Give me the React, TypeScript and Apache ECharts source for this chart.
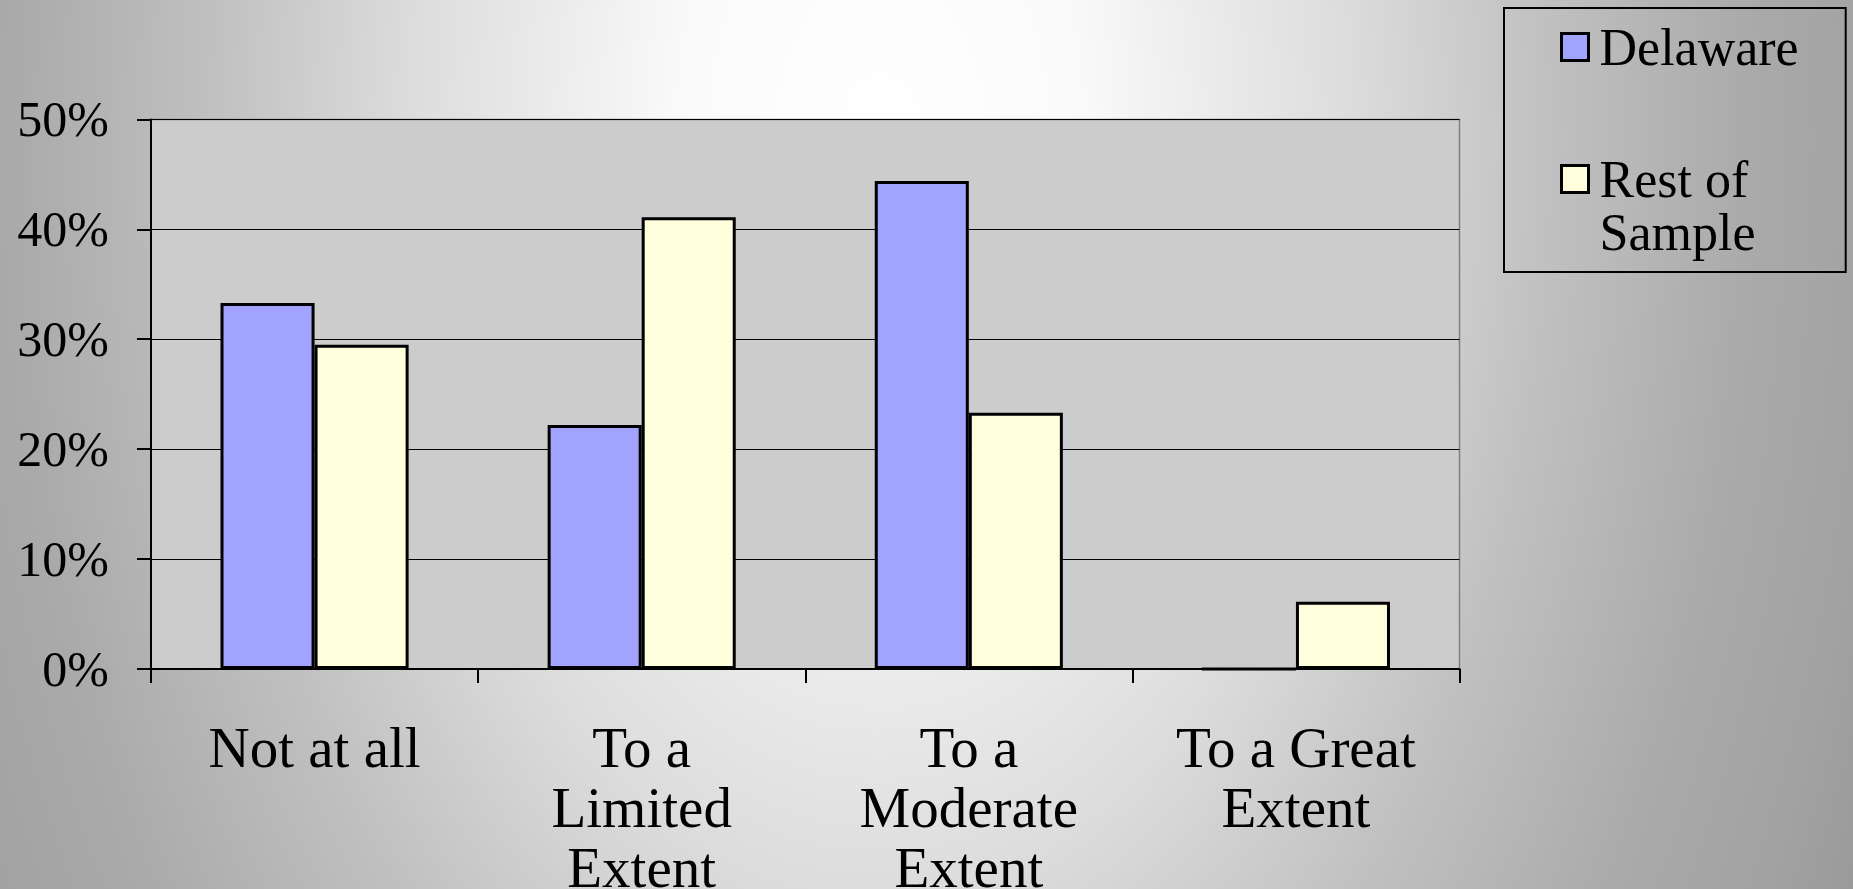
import React, { useEffect, useRef } from 'react';
import * as echarts from 'echarts';

// Survey answer categories (x axis), with their printed line breaks
const categories = [
  'Not at all',
  'To a\nLimited\nExtent',
  'To a\nModerate\nExtent',
  'To a Great\nExtent',
];

// Share of respondents, in percent
const delaware = [33.3, 22.2, 44.4, 0];
const restOfSample = [29.5, 41.1, 23.3, 6.1];

// Value axis range
const yMin = 0;
const yMax = 50;
const yStep = 10;

const seriesNames = ['Delaware', 'Rest of Sample'];

const W = 1853;
const H = 889;
const FONT = '"Liberation Serif", "Times New Roman", serif';

export default function App() {
  const ref = useRef<HTMLDivElement>(null);

  useEffect(() => {
    if (!ref.current) return;
    const chart = echarts.init(ref.current, undefined, { renderer: 'svg' });

    // Elliptical backdrop: a circular gradient drawn in a vertically stretched rect
    const stretch = 1.6;
    const backdrop = new echarts.graphic.RadialGradient(
      880,
      140 / stretch,
      1100,
      [
        { offset: 0, color: '#ffffff' },
        { offset: 0.18, color: '#fafafa' },
        { offset: 0.43, color: '#dcdcdc' },
        { offset: 0.61, color: '#c0c0c0' },
        { offset: 0.79, color: '#aaaaaa' },
        { offset: 0.91, color: '#a2a2a2' },
        { offset: 1, color: '#989898' },
      ],
      true
    );

    chart.setOption({
      animation: false,
      graphic: [
        {
          type: 'rect',
          z: -100,
          silent: true,
          shape: { x: 0, y: 0, width: W, height: H / stretch },
          scaleY: stretch,
          style: { fill: backdrop },
        },
      ],
      grid: {
        left: 151,
        right: W - 1459.5,
        top: 119.4,
        bottom: H - 668.9,
        outerBoundsMode: 'none',
        containLabel: false,
        show: true,
        backgroundColor: '#cccccc',
        borderColor: '#808080',
        borderWidth: 1.5,
      },
      legend: {
        orient: 'vertical',
        left: 1504,
        top: 8,
        padding: [12.5, 47, 13.5, 56],
        borderColor: '#000',
        borderWidth: 2,
        itemWidth: 27,
        itemHeight: 27,
        itemGap: 26,
        icon: 'rect',
        itemStyle: { borderColor: '#000', borderWidth: 3 },
        textStyle: {
          fontFamily: FONT,
          fontSize: 52,
          lineHeight: 53,
          color: '#000',
          padding: [0, 0, 0, 6],
        },
        data: seriesNames,
        // The two-line entry keeps its first line level with the swatch
        formatter: (name: string) => (name === 'Rest of Sample' ? '\nRest of\nSample' : name),
      },
      xAxis: {
        type: 'category',
        data: categories,
        axisLine: { lineStyle: { color: '#000', width: 2 } },
        axisTick: { show: true, length: 14, lineStyle: { color: '#000', width: 2 } },
        axisLabel: {
          interval: 0,
          margin: 49,
          fontFamily: FONT,
          fontSize: 57,
          lineHeight: 60,
          color: '#000',
        },
        splitLine: { show: false },
      },
      yAxis: {
        type: 'value',
        min: yMin,
        max: yMax,
        interval: yStep,
        axisLine: { show: true, lineStyle: { color: '#000', width: 2 } },
        axisTick: { show: true, length: 14, lineStyle: { color: '#000', width: 2 } },
        axisLabel: {
          formatter: '{value}%',
          margin: 42,
          fontFamily: FONT,
          fontSize: 50,
          color: '#000',
        },
        splitLine: { show: true, lineStyle: { color: '#000', width: 1 } },
      },
      series: [
        {
          name: seriesNames[0],
          type: 'bar',
          data: delaware,
          barGap: '0%',
          barCategoryGap: '42.5%',
          itemStyle: { color: '#a2a2ff', borderColor: '#000', borderWidth: 3 },
        },
        {
          name: seriesNames[1],
          type: 'bar',
          data: restOfSample,
          barGap: '0%',
          barCategoryGap: '42.5%',
          itemStyle: { color: '#ffffdc', borderColor: '#000', borderWidth: 3 },
        },
      ],
    });

    return () => chart.dispose();
  }, []);

  return (
    <div
      ref={ref}
      style={{ position: 'fixed', left: 0, top: 0, width: W, height: H }}
    />
  );
}
